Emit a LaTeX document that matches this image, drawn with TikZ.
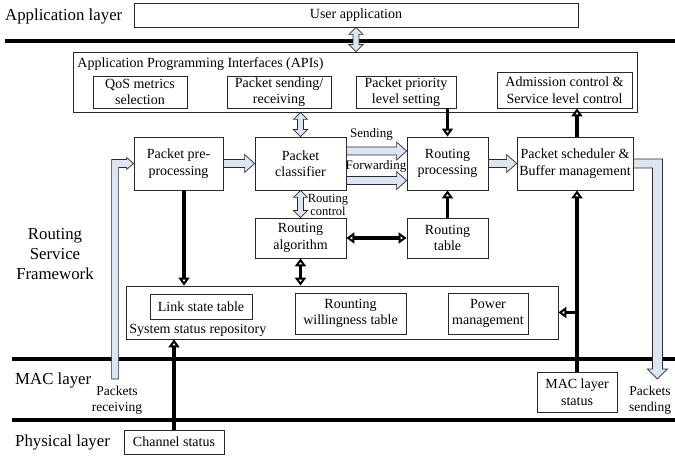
\documentclass[tikz,border=0pt]{standalone}
\usepackage{fontspec}
\setmainfont{Liberation Serif}
\usetikzlibrary{arrows.meta,calc}
\definecolor{hb}{HTML}{DCE6F2}
\definecolor{lc}{HTML}{2A2A2A}
\newcommand\harr[2]{\draw[hol] let \p1=(#1), \p2=(#2) in
  (\x1,\y1+4pt) -- (\x2-10pt,\y1+4pt) -- (\x2-10pt,\y1+9pt) -- (\x2,\y1) --
  (\x2-10pt,\y1-9pt) -- (\x2-10pt,\y1-4pt) -- (\x1,\y1-4pt) -- cycle;}
\newcommand\vdarr[2]{\draw[hol] let \p1=(#1), \p2=(#2) in
  (\x1,\y1) -- (\x1+7pt,\y1-7pt) -- (\x1+3pt,\y1-7pt) -- (\x1+3pt,\y2+7pt) --
  (\x1+7pt,\y2+7pt) -- (\x1,\y2) -- (\x1-7pt,\y2+7pt) -- (\x1-3pt,\y2+7pt) --
  (\x1-3pt,\y1-7pt) -- (\x1-7pt,\y1-7pt) -- cycle;}
\begin{document}
\begin{tikzpicture}[x=1pt,y=-1pt,
  bx/.style={draw=lc, line width=0.8pt, inner sep=0pt, align=center,
    font=\fontsize{14}{16.5}\selectfont},
  lay/.style={font=\fontsize{16.8}{20}\selectfont, inner sep=0pt, align=center},
  sml/.style={font=\fontsize{13.5}{16}\selectfont, inner sep=0pt, align=center},
  hol/.style={draw=lc, line width=0.7pt, fill=hb},
  layl/.style={line width=3.6pt},
  tip/.tip={Triangle[width=11pt,length=8pt,fill=white]},
  ba/.style={line width=3.2pt, -tip},
  bda/.style={line width=3.2pt, tip-tip}]
\useasboundingbox (0,0) rectangle (675,457);

% layer separators
\draw[layl] (5,41) -- (675,41);
\draw[layl] (12,359) -- (675,359);
\draw[layl] (12,420) -- (675,420);

% layer labels
\node[lay, anchor=west] (lapp) at (5,16) {Application layer};
\node[lay] (lrsf) at (55,254) {Routing\\Service\\Framework};
\node[lay, anchor=west] (lmac) at (15,380) {MAC layer};
\node[lay, anchor=west] (lphy) at (15,442) {Physical layer};

% boxes
\node[bx, minimum width=444, minimum height=24] (user) at (356,15) {User application};
\node[bx, minimum width=564, minimum height=60] (api) at (355,82) {};
\node[bx, draw=none, anchor=west] (apit) at (77,64) {Application Programming Interfaces (APIs)};
\node[bx, minimum width=94, minimum height=32] (qos) at (140,92) {QoS metrics\\selection};
\node[bx, minimum width=104, minimum height=32] (psr) at (279,92) {Packet sending/\\receiving};
\node[bx, minimum width=100, minimum height=32] (prio) at (406,92) {Packet priority\\level setting};
\node[bx, minimum width=135, minimum height=36] (adm) at (564.5,90) {Admission control \&\\Service level control};

\node[bx, minimum width=89, minimum height=53] (pre) at (178.5,163.5) {Packet pre-\\processing};
\node[bx, minimum width=91, minimum height=53] (cls) at (300.5,163.5) {Packet\\classifier};
\node[bx, minimum width=81, minimum height=53] (rp) at (447.5,163.5) {Routing\\processing};
\node[bx, minimum width=116, minimum height=53] (sch) at (575,163.5) {Packet scheduler \&\\Buffer management};
\node[bx, minimum width=91, minimum height=40] (ralg) at (300.5,238) {Routing\\algorithm};
\node[bx, minimum width=81, minimum height=40] (rtab) at (447.5,238) {Routing\\table};

\node[bx, minimum width=432, minimum height=53] (ssr) at (342,312.5) {};
\node[bx, draw=none, anchor=west] (ssrt) at (129,330) {System status repository};
\node[bx, minimum width=102, minimum height=25] (lst) at (201,306.5) {Link state table};
\node[bx, minimum width=111, minimum height=41] (rwt) at (350.5,313.5) {Rounting\\willingness table};
\node[bx, minimum width=80, minimum height=41] (pm) at (488,313.5) {Power\\management};

\node[bx, minimum width=80, minimum height=40] (macs) at (577,392) {MAC layer\\status};
\node[bx, minimum width=100, minimum height=24] (chs) at (174,442) {Channel status};

% small labels
\node[sml] (lrecv) at (117,400) {Packets\\receiving};
\node[sml] (lsend) at (650,400) {Packets\\sending};
\node[sml, font=\fontsize{13}{15}\selectfont] (lsnd) at (371.5,134) {Sending};
\node[sml, font=\fontsize{13}{15}\selectfont] (lfwd) at (376,166) {Forwarding};
\node[sml, font=\fontsize{12.5}{13}\selectfont] (lrc) at (328,204.5) {Routing\\control};

% hollow arrows
\vdarr{user.south}{user.south |- api.north}
\vdarr{cls.north |- api.south}{cls.north}
\vdarr{cls.south}{ralg.north}
\harr{pre.east}{cls.west}
\harr{$(cls.east)+(0,-12.5)$}{rp.west}
\harr{$(cls.east)+(0,17)$}{rp.west}
\harr{rp.east}{sch.west}
% packets receiving (bent)
\draw[hol] (pre.west) -- ++(-7,-6) -- ++(0,2) -- ++(-15,0) -- ++(0,219.5)
  -- ++(7,0) -- ++(0,-211.5) -- ++(8,0) -- ++(0,2) -- cycle;
% packets sending (bent)
\draw[hol] ($(sch.east)+(0,-4.5)$) -- ++(29,0) -- ++(0,210) -- ++(5,0)
  -- ++(-10,10) -- ++(-10,-10) -- ++(5,0) -- ++(0,-201) -- ++(-19,0) -- cycle;

% bold arrows
\coordinate (pa) at ($(pre.south)+(5.5,0)$);
\draw[ba] (prio.south -| rp.north) -- (rp.north);
\draw[ba] (rtab.north) -- (rp.south);
\draw[ba] (macs.north |- sch.north) -- (macs.north |- adm.south);
\draw[ba] (macs.north) -- (macs.north |- sch.south);
\draw[ba] (macs.north |- ssr.east) -- (ssr.east);
\draw[ba] (pa) -- (pa |- ssr.north);
\draw[bda] (ralg.south) -- (ralg.south |- ssr.north);
\draw[bda] (ralg.east) -- (rtab.west);
\draw[ba] (chs.north) -- (chs.north |- ssr.south);
\end{tikzpicture}
\end{document}
